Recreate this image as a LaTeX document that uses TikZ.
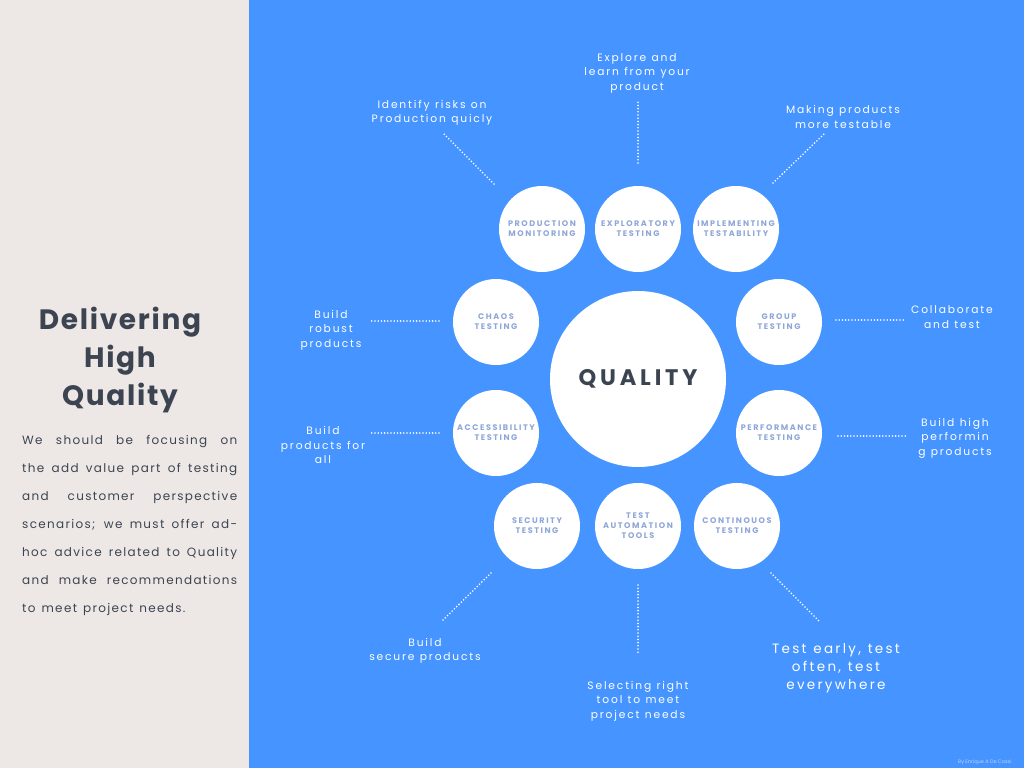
\documentclass[tikz,border=0pt]{standalone}
\usepackage{fontspec}
\setmainfont{Poppins}
\newfontfamily\lblfont[LetterSpace=17]{Poppins}
\newfontfamily\cirfont[LetterSpace=19]{Poppins}
\newfontfamily\bodyfont[LetterSpace=11]{Poppins}
\newfontfamily\titlefont[LetterSpace=6]{Poppins}
\newfontfamily\qualfont[LetterSpace=17]{Poppins}
\definecolor{bgblue}{HTML}{4694FF}
\definecolor{panel}{HTML}{EDE8E6}
\definecolor{darktxt}{HTML}{3D4451}
\definecolor{circtxt}{HTML}{8FA7D8}
\definecolor{credit}{HTML}{BCD4FF}
\newcommand\jline[1]{\leavevmode\hbox to 215pt{\setlength\spaceskip{0.4em plus 1fil}#1}}
\newcommand\nline[1]{\leavevmode\hbox to 215pt{\setlength\spaceskip{0.5em}#1\hfil}}
\newcommand\lblsetup{\lblfont\fontsize{10.7}{14.5}\selectfont\setlength\spaceskip{0.5em}}
\newcommand\bigsetup{\lblfont\fontsize{13.5}{18}\selectfont\setlength\spaceskip{0.5em}}
\newcommand\cirsetup{\cirfont\bfseries\fontsize{8.1}{10}\selectfont}
\tikzset{
  small/.style={circle,fill=white,minimum size=86pt,inner sep=0pt,align=center,
    text=circtxt,font=\cirsetup},
  big/.style={circle,fill=white,minimum size=176pt,inner sep=0pt,
    text=darktxt,font=\qualfont\bfseries\fontsize{22.5}{24}\selectfont},
  lbl/.style={align=center,text=white,inner sep=0pt,font=\lblsetup},
  dots/.style={draw=white,line width=1.8pt,line cap=round,dash pattern=on 0pt off 3.2pt}
}
\begin{document}
\begin{tikzpicture}[x=1pt,y=-1pt]
\useasboundingbox (0,0) rectangle (1024,768);
\fill[bgblue] (0,0) rectangle (1024,768);
\fill[panel] (0,0) rectangle (249,768);
% left panel
\node[text=darktxt,align=center,inner sep=0pt,font=\titlefont\bfseries\fontsize{28}{38}\selectfont] (title) at (120,360) {Delivering\\High\\Quality};
\node[text=darktxt,anchor=north west,inner sep=0pt,align=left,text width=215pt,
  font=\bodyfont\fontsize{12}{28}\selectfont] (body) at (22,435)
{\jline{We should be focusing on}\\
\jline{the add value part of testing}\\
\jline{and customer perspective}\\
\jline{scenarios; we must offer ad-}\\
\jline{hoc advice related to Quality}\\
\jline{and make recommendations}\\
\nline{to meet project needs.}};
% circles
\node[big] (q) at (638,379) {QUALITY};
\node[small] (pm) at (542,229) {PRODUCTION\\MONITORING};
\node[small] (ex) at (638,229) {EXPLORATORY\\TESTING};
\node[small] (it) at (736,229) {IMPLEMENTING\\TESTABILITY};
\node[small] (ch) at (496,322) {CHAOS\\TESTING};
\node[small] (gr) at (779,322) {GROUP\\TESTING};
\node[small] (ac) at (496,433) {ACCESSIBILITY\\TESTING};
\node[small] (pe) at (779,433) {PERFORMANCE\\TESTING};
\node[small] (se) at (537,526) {SECURITY\\TESTING};
\node[small] (ta) at (638,526) {TEST\\AUTOMATION\\TOOLS};
\node[small] (co) at (737,526) {CONTINOUOS\\TESTING};
% labels
\node[lbl] (lpm) at (432,113) {Identify risks on\\Production quicly};
\node[lbl] (lex) at (637,73) {Explore and\\learn from your\\product};
\node[lbl] (lit) at (843,117) {Making products\\more testable};
\node[lbl] (lch) at (331,330) {Build\\robust\\products};
\node[lbl] (lgr) at (952,317) {Collaborate\\and test};
\node[lbl] (lac) at (323,445) {Build\\products for\\all};
\node[lbl] (lpe) at (955,438) {Build high\\performin\\g products};
\node[lbl] (lse) at (425,651) {Build\\secure products};
\node[lbl] (lta) at (638,701) {Selecting right\\tool to meet\\project needs};
\node[lbl,font=\bigsetup] (lco) at (836,668) {Test early, test\\often, test\\everywhere};
% connector end points
\coordinate (pm1) at (494,184); \coordinate (pm2) at (444,134);
\coordinate (ex1) at (638,163); \coordinate (ex2) at (638,100);
\coordinate (it1) at (773,183); \coordinate (it2) at (824,134);
\coordinate (ch1) at (439,321); \coordinate (ch2) at (369,321);
\coordinate (gr1) at (836,320); \coordinate (gr2) at (906,320);
\coordinate (ac1) at (439,433); \coordinate (ac2) at (369,433);
\coordinate (pe1) at (838,436); \coordinate (pe2) at (908,436);
\coordinate (se1) at (491,573); \coordinate (se2) at (441,622);
\coordinate (ta1) at (638,585); \coordinate (ta2) at (638,655);
\coordinate (co1) at (771,573); \coordinate (co2) at (820,622);
\foreach \n in {pm,ex,it,ch,gr,ac,pe,se,ta,co}{\draw[dots] (\n1) -- (\n2);}
\node[anchor=west,inner sep=0pt,text=credit,font=\fontsize{5}{6}\selectfont] (cr) at (958,762) {By Enrique A De Cossi};
\end{tikzpicture}
\end{document}
